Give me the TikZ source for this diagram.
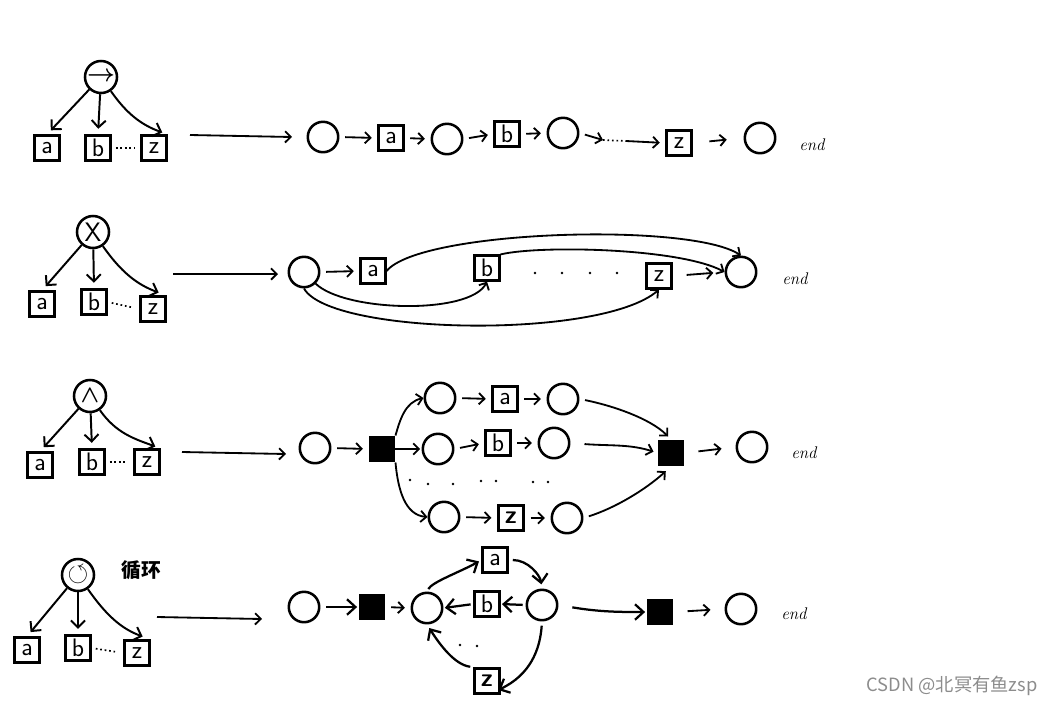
\documentclass[tikz,border=0pt]{standalone}
\usepackage{fontspec}
\usepackage{amsmath}
\usepackage{amssymb}
\usetikzlibrary{arrows.meta}
\newfontfamily\cjk{Noto Sans CJK SC}
\begin{document}
\begin{tikzpicture}[x=0.025cm,y=-0.025cm,
 st/.style={circle,draw,line width=1.8pt,minimum size=0.76cm,inner sep=0pt},
 rt/.style={circle,draw,line width=1.8pt,minimum size=0.8cm,inner sep=0pt},
 sym/.style={label={[font=\fontsize{19}{19}\selectfont\boldmath,inner sep=0pt]center:#1}},
 bx/.style={rectangle,draw,line width=1.7pt,minimum size=0.62cm,inner sep=0pt,font=\sffamily\fontsize{18}{18}\selectfont},
 gw/.style={rectangle,fill=black,minimum size=0.66cm,inner sep=0pt},
 arr/.style={line width=1.3pt,-{Straight Barb[length=4pt,width=8pt]}},
 tarr/.style={line width=1.4pt,-{Straight Barb[length=5pt,width=10pt]},shorten >=4pt},
 big/.style={line width=1.6pt,-{Straight Barb[length=6pt,width=11pt]}},
 gap/.style={shorten <=4pt,shorten >=4pt},
 endl/.style={font=\itshape\fontsize{12}{12}\selectfont},
 dts/.style={line width=1.2pt,dotted}
]
\useasboundingbox (0,0) rectangle (1057,705);

% ---------------- Row 1: sequence ----------------
\node[rt,sym={$\rightarrow$}] (r1) at (101,77) {};
\node[bx] (r1a) at (47,148) {a};
\node[bx] (r1b) at (98,148) {b};
\node[bx] (r1z) at (154,148) {z};
\draw[tarr] (r1) -- (r1a.north);
\draw[tarr] (r1) -- (r1b.north);
\draw[tarr] (r1) to[out=-55,in=160] (r1z.north east);
\draw[dts,shorten <=3pt,shorten >=4pt] (r1b.east) -- (r1z.west);
\coordinate (l1s) at (190,135); \coordinate (l1e) at (292,137);
\draw[arr] (l1s) -- (l1e);

\node[st] (c11) at (323,137) {};
\node[bx] (a1) at (391,138) {a};
\node[st] (c12) at (447,139) {};
\node[bx] (b1) at (507,134) {b};
\node[st] (c13) at (563,133) {};
\node[bx] (z1) at (679,143) {z};
\node[st] (c14) at (760,138) {};
\node[endl] (e1) at (812,145) {end};
\draw[arr,gap] (c11.east) -- (a1.west);
\draw[arr,gap] (a1.east) -- (c12.west);
\draw[arr,gap] (c12.east) -- (b1.west);
\draw[arr,gap] (b1.east) -- (c13.west);
\coordinate (d1a) at (603,140); \coordinate (d1b) at (626,141);
\draw[arr,shorten <=4pt] (c13.east) -- (d1a);
\draw[dts] (d1a) -- (d1b);
\draw[arr,shorten >=4pt] (d1b) -- (z1.west);
\draw[arr,shorten <=12pt,shorten >=12pt] (z1.east) -- (c14.west);

% ---------------- Row 2: XOR ----------------
\node[rt,sym={\sffamily X}] (r2) at (93,232) {};
\node[bx] (r2a) at (42,304) {a};
\node[bx] (r2b) at (94,302) {b};
\node[bx] (r2z) at (153,309) {z};
\draw[tarr] (r2) -- (r2a.north);
\draw[tarr] (r2) -- (r2b.north);
\draw[tarr,shorten >=6pt] (r2) to[out=-55,in=160] (r2z.north east);
\draw[dts,shorten <=3pt,shorten >=6pt] (r2b.east) -- (r2z.west);
\coordinate (l2s) at (173,274); \coordinate (l2e) at (278,274);
\draw[arr] (l2s) -- (l2e);

\node[st] (c21) at (304,272) {};
\node[bx] (a2) at (373,271) {a};
\node[bx] (b2) at (487,268) {b};
\node[bx] (z2) at (659,276) {z};
\node[st] (c22) at (741,272) {};
\node[endl] (e2) at (795,279) {end};
\draw[arr,gap] (c21.east) -- (a2.west);
\draw[arr,shorten <=10pt,shorten >=8pt] (z2.east) -- (c22.west);
\draw[arr] (a2.east) .. controls (420,230) and (690,222) .. (c22.north);
\draw[arr] (b2.north east) .. controls (540,245) and (680,248) .. (c22.west);
\draw[arr] (c21.south east) .. controls (345,312) and (470,315) .. (b2.south);
\draw[arr] (c21.south) .. controls (330,335) and (600,340) .. (z2.south);
\foreach \x in {535,562,590,617} \fill (\x,273) circle (1pt);

% ---------------- Row 3: AND ----------------
\node[rt,sym={$\wedge$}] (r3) at (90,396) {};
\node[bx] (r3a) at (40,465) {a};
\node[bx] (r3b) at (92,462) {b};
\node[bx] (r3z) at (147,462) {z};
\draw[tarr] (r3) -- (r3a.north);
\draw[tarr] (r3) -- (r3b.north);
\draw[tarr] (r3) to[out=-55,in=160] (r3z.north east);
\draw[dts,shorten <=3pt,shorten >=6pt] (r3b.east) -- (r3z.west);
\coordinate (l3s) at (182,452); \coordinate (l3e) at (286,454);
\draw[arr] (l3s) -- (l3e);

\node[st] (c31) at (315,448) {};
\node[gw] (s31) at (382,449) {};
\node[st] (t1) at (440,398) {};
\node[bx] (a3) at (505,399) {a};
\node[st] (t2) at (563,399) {};
\node[st] (m1) at (438,449) {};
\node[bx] (b3) at (498,443) {b};
\node[st] (m2) at (554,443) {};
\node[st] (u1) at (444,517) {};
\node[bx,line width=2.2pt] (z3) at (511,518) {\bfseries z};
\node[st] (u2) at (567,518) {};
\node[gw] (s32) at (671,453) {};
\node[st] (c32) at (752,447) {};
\node[endl] (e3) at (804,453) {end};
\draw[arr,gap] (c31.east) -- (s31.west);
\draw[arr] (s31.north east) .. controls (400,420) and (405,402) .. (t1.west);
\draw[arr,shorten >=1pt] (s31.east) -- (m1.west);
\draw[arr] (s31.south east) .. controls (398,490) and (405,515) .. (u1.west);
\draw[arr,gap] (t1.east) -- (a3.west);
\draw[arr,gap] (a3.east) -- (t2.west);
\draw[arr,gap] (m1.east) -- (b3.west);
\draw[arr,gap] (b3.east) -- (m2.west);
\draw[arr,gap] (u1.east) -- (z3.west);
\draw[arr,gap] (z3.east) -- (u2.west);
\draw[arr,shorten <=4pt,shorten >=3pt] (t2.east) .. controls (610,405) and (650,418) .. (s32.north);
\draw[arr,shorten <=10pt,shorten >=3pt] (m2.east) .. controls (610,446) and (630,444) .. (s32.west);
\draw[arr,shorten <=4pt,shorten >=5pt] (u2.east) .. controls (615,508) and (645,490) .. (s32.south);
\draw[arr,shorten <=10pt,shorten >=10pt] (s32.east) -- (c32.west);
\foreach \x/\y in {410/480,428/484,453/484,481/481,496/481,533/482,548/482} \fill (\x,\y) circle (1pt);

% ---------------- Row 4: loop ----------------
\node[rt,sym={$\circlearrowleft$}] (r4) at (78,575) {};
\node[font=\cjk\bfseries\fontsize{14}{14}\selectfont] (lp) at (141,570) {循环};
\node[bx] (r4a) at (27,650) {a};
\node[bx] (r4b) at (78,648) {b};
\node[bx] (r4z) at (137,653) {z};
\draw[tarr] (r4) -- (r4a.north);
\draw[tarr] (r4) -- (r4b.north);
\draw[tarr,shorten >=6pt] (r4) to[out=-55,in=160] (r4z.north east);
\draw[dts,shorten <=3pt,shorten >=6pt] (r4b.east) -- (r4z.west);
\coordinate (l4s) at (157,617); \coordinate (l4e) at (262,619);
\draw[arr] (l4s) -- (l4e);

\node[st] (c41) at (304,607) {};
\node[gw] (s41) at (372,607) {};
\node[st] (cl) at (427,608) {};
\node[bx] (a4) at (495,560) {a};
\node[bx] (b4) at (487,604) {b};
\node[st] (cr) at (542,605) {};
\node[bx,line width=2.2pt] (z4) at (487,681) {\bfseries z};
\node[gw] (s42) at (660,612) {};
\node[st] (c42) at (741,609) {};
\node[endl] (e4) at (794,614) {end};
\draw[big,shorten <=4pt,shorten >=1pt] (c41.east) -- (s41.west);
\draw[arr,gap] (s41.east) -- (cl.west);
\draw[big,shorten <=2pt,shorten >=2pt] (cl.north) .. controls (432,582) and (460,572) .. (a4.west);
\draw[big,shorten <=3pt,shorten >=3pt] (a4.east) .. controls (528,560) and (540,575) .. (cr.north);
\draw[big,shorten <=2pt,shorten >=1pt] (cr.west) -- (b4.east);
\draw[big,shorten <=2pt,shorten >=1pt] (b4.west) -- (cl.east);
\draw[big,shorten <=3pt] (cr.south) .. controls (540,650) and (530,675) .. ([xshift=-2pt]z4.east |- 0,690);
\draw[big,shorten <=2pt,shorten >=3pt] (z4.north west) .. controls (455,665) and (440,645) .. (cl.south);
\draw[big,shorten <=10pt,shorten >=1pt] (cr.east) .. controls (600,612) and (620,612) .. (s42.west);
\draw[arr,shorten <=10pt,shorten >=10pt] (s42.east) -- (c42.west);
\foreach \x/\y in {460/645,477/646} \fill (\x,\y) circle (1pt);

% watermark
\node[text=black!45,font=\cjk\fontsize{13}{13}\selectfont] (wm) at (952,686) {CSDN @北冥有鱼zsp};
\end{tikzpicture}
\end{document}
